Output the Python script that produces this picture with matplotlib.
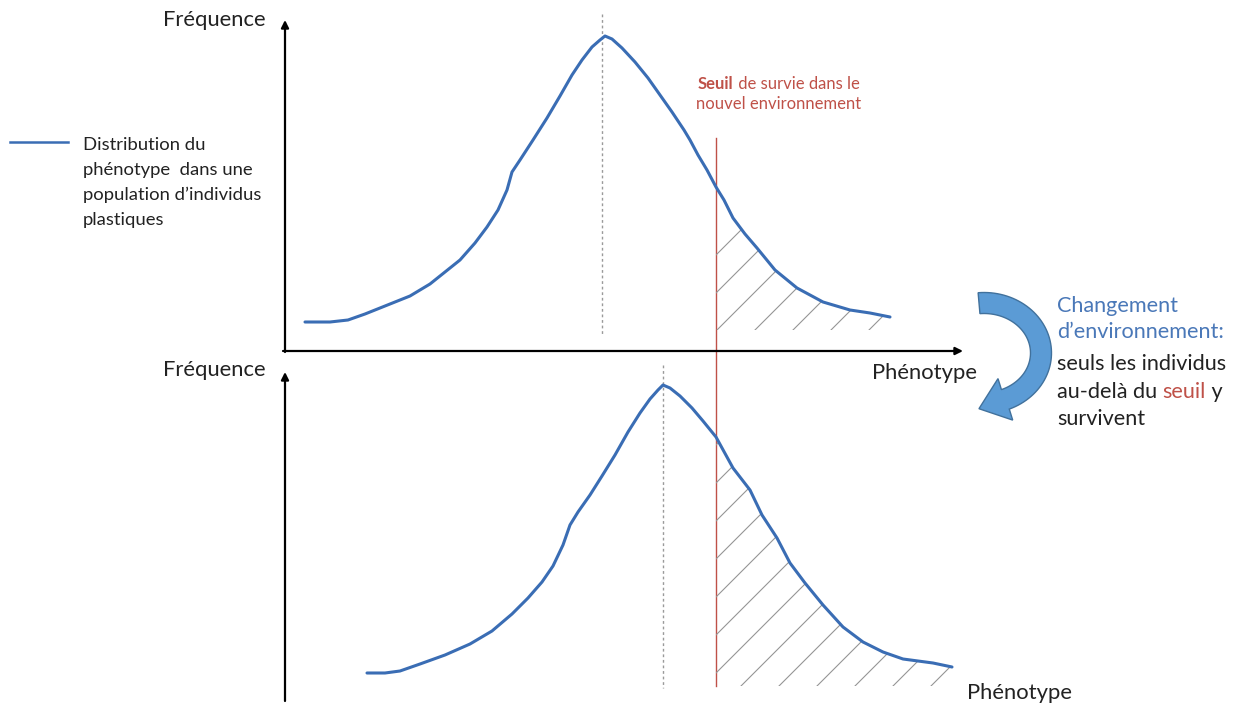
import numpy as np
import matplotlib
matplotlib.use('Agg')
import matplotlib.pyplot as plt
from matplotlib.patches import Polygon

plt.rcParams['font.family'] = ['Lato', 'DejaVu Sans']

# curves in pixel units (x right, y down)
top_x = [305, 330, 348, 365, 385, 410, 430, 445, 460, 475, 487, 498, 507, 512, 520, 533,
         547, 560, 572, 582, 592, 600, 605, 612, 622, 635, 648, 660, 672, 684, 690, 698,
         707, 716, 724, 733, 745, 757, 775, 797, 823, 850, 870, 890]
top_y = [322, 322, 320, 314, 306, 296, 284, 272, 260, 243, 227, 210, 190, 172, 160, 140,
         118, 96, 75, 60, 47, 40, 36, 39, 48, 62, 78, 95, 112, 130, 140, 155,
         170, 187, 200, 218, 234, 248, 270, 288, 302, 310, 313, 317]
bot_x = [367, 385, 400, 420, 445, 470, 492, 512, 528, 542, 553, 563, 570, 578, 590, 602,
         615, 628, 640, 650, 658, 663, 670, 680, 692, 703, 716, 733, 750, 762, 777, 790,
         805, 823, 843, 863, 883, 903, 933, 952]
bot_y = [673, 673, 671, 664, 655, 644, 631, 614, 598, 582, 566, 545, 525, 512, 495, 476,
         455, 432, 413, 399, 390, 385, 388, 396, 408, 421, 437, 468, 490, 515, 538, 563,
         583, 605, 627, 642, 652, 659, 663, 667]

threshold = 716
top_mode, bot_mode = 602, 663

legend_lines = ['Distribution du', 'phénotype  dans une', 'population d\u2019individus', 'plastiques']
seuil_line2 = 'nouvel environnement'
right_lines = ['Changement', 'd\u2019environnement:', 'seuls les individus']

BLUE = '#3a6db4'
RED = '#bf5148'
TXT = '#222222'

fig = plt.figure(figsize=(12.39, 7.07), dpi=100)
ax = fig.add_axes([0, 0, 1, 1])
ax.set_xlim(0, 1239)
ax.set_ylim(707, 0)
ax.axis('off')


def axis_arrow(x0, y0, x1, y1):
    ax.annotate('', xy=(x1, y1), xytext=(x0, y0),
                arrowprops=dict(arrowstyle='-|>', color='black', lw=1.6,
                                mutation_scale=11, shrinkA=0, shrinkB=0))


axis_arrow(285, 352, 285, 20)
axis_arrow(283, 351, 963, 351)
axis_arrow(285, 701, 285, 372)

# mode lines
ax.plot([top_mode, top_mode], [14, 336], color='#9a9a9a', lw=1, ls=(0, (2, 2)))
ax.plot([bot_mode, bot_mode], [365, 688], color='#9a9a9a', lw=1, ls=(0, (2, 2)))

# threshold
ax.plot([threshold, threshold], [138, 686], color=RED, lw=1)


def hatch(xs, ys, base):
    xs = np.asarray(xs, float)
    ys = np.asarray(ys, float)
    yc = np.interp(threshold, xs, ys)
    keep = xs > threshold
    px = np.concatenate([[threshold], xs[keep], [xs[keep][-1], threshold]])
    py = np.concatenate([[yc], ys[keep], [base, base]])
    poly = Polygon(np.column_stack([px, py]), closed=True, fc='none', ec='none')
    ax.add_patch(poly)
    for c in np.arange(971, 2000, 38):
        ln, = ax.plot([c - 800, c], [800, 0], color='#959595', lw=0.8)
        ln.set_clip_path(poly)


hatch(top_x, top_y, 330)
hatch(bot_x, bot_y, 686)

ax.plot(top_x, top_y, color=BLUE, lw=2.2, solid_joinstyle='round', solid_capstyle='round')
ax.plot(bot_x, bot_y, color=BLUE, lw=2.2, solid_joinstyle='round', solid_capstyle='round')

# legend
ax.plot([10, 68], [142, 142], color=BLUE, lw=1.8)
for i, s in enumerate(legend_lines):
    ax.text(83, 145 + 25 * i, s, fontsize=13.3, color=TXT, va='center', ha='left')

# axis labels
ax.text(163, 20, 'Fréquence', fontsize=15.8, color=TXT, va='center')
ax.text(163, 370, 'Fréquence', fontsize=15.8, color=TXT, va='center')
ax.text(872, 373, 'Phénotype', fontsize=15.8, color=TXT, va='center')
ax.text(967, 693, 'Phénotype', fontsize=15.8, color=TXT, va='center')

# threshold label
t1 = ax.text(698, 84, 'Seuil', fontsize=12, color=RED, fontweight='bold', va='center')
ax.annotate(' de survie dans le', xy=(1, 0), xycoords=t1, va='bottom', ha='left',
            fontsize=12, color=RED)
ax.text(696, 104, seuil_line2, fontsize=12, color=RED, va='center')

# right text
FS = 15.6
ax.text(1057, 306, right_lines[0], fontsize=FS, color='#4a78b8', va='center')
ax.text(1057, 332, right_lines[1], fontsize=FS, color='#4a78b8', va='center')
ax.text(1057, 364, right_lines[2], fontsize=FS, color=TXT, va='center')
t2 = ax.text(1057, 392, 'au-delà du ', fontsize=FS, color=TXT, va='center')
t3 = ax.annotate('seuil', xy=(1, 0), xycoords=t2, va='bottom', ha='left', fontsize=FS, color=RED)
ax.annotate(' y', xy=(1, 0), xycoords=t3, va='bottom', ha='left', fontsize=FS, color=TXT)
ax.text(1057, 419, 'survivent', fontsize=FS, color=TXT, va='center')

# curved arrow
cx, cy, rx, ry, hw = 984, 353, 57, 50, 10.5
th = np.radians(np.linspace(95, -68, 60))
outer = np.column_stack([cx + (rx + hw) * np.cos(th), cy - (ry + hw) * np.sin(th)])
inner = np.column_stack([cx + (rx - hw) * np.cos(th), cy - (ry - hw) * np.sin(th)])
te = th[-1]
mid = np.array([cx + rx * np.cos(te), cy - ry * np.sin(te)])
d = np.array([rx * np.sin(te), ry * np.cos(te)])
d = d / np.linalg.norm(d)
n = np.array([-d[1], d[0]])
if np.dot(n, outer[-1] - mid) < 0:
    n = -n
pts = np.vstack([outer, [mid + n * 22], [mid + d * 28], [mid - n * 22], inner[::-1]])
ax.add_patch(Polygon(pts, closed=True, fc='#5b9bd5', ec='#41719c', lw=1))

fig.savefig('out.png', dpi=100, facecolor='white')
